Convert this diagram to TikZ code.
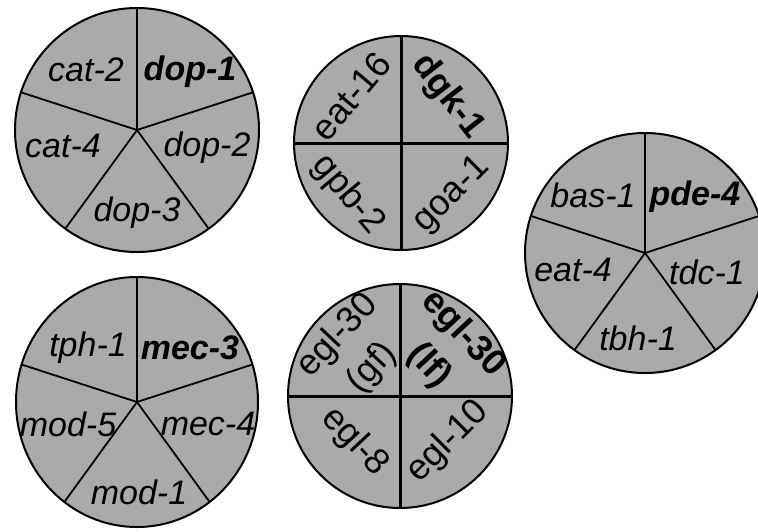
\documentclass[tikz,border=0pt]{standalone}
\usepackage{fontspec}
\setmainfont{Liberation Sans}
\usetikzlibrary{shapes.geometric}
\definecolor{piefill}{RGB}{170,170,170}
\tikzset{
  pie/.style={circle, draw=black, line width=2pt, fill=piefill, inner sep=0pt, outer sep=0pt},
  spoke/.style={line width=1.8pt},
  cross/.style={line width=3pt},
  lab/.style={font=\fontsize{34}{38}\selectfont\itshape, inner sep=0pt},
  blab/.style={font=\fontsize{34}{38}\selectfont\bfseries\itshape, inner sep=0pt},
  qlab/.style={font=\fontsize{36}{47}\selectfont, inner sep=0pt, align=center},
  bqlab/.style={font=\fontsize{36}{47}\selectfont\bfseries, inner sep=0pt, align=center},
}
\begin{document}
\begin{tikzpicture}[x=1pt, y=-1pt]
  \useasboundingbox (0,0) rectangle (758,531);
  \clip (0,0) rectangle (758,531);

  % dopamine group (five sectors)
  \node[pie, minimum size=244pt] (c1) at (137,130) {};
  \foreach \a in {90,18,-54,-126,162} \draw[spoke] (c1.center) -- (c1.\a);
  \node[lab]  (c1a) at (86,70)   {cat-2};
  \node[blab] (c1b) at (190,72)  {dop-1};
  \node[lab]  (c1c) at (63,146)  {cat-4};
  \node[lab]  (c1d) at (207,148) {dop-2};
  \node[lab]  (c1e) at (137,213) {dop-3};

  % G-protein / DAG group (quadrants)
  \node[pie, minimum size=214pt] (c2) at (401,143) {};
  \draw[cross] (c2.north) -- (c2.south);
  \draw[cross] (c2.west) -- (c2.east);
  \node[qlab,  rotate=50]  (c2a) at (351,96)  {eat-16};
  \node[bqlab, rotate=-52] (c2b) at (448,97)  {dgk-1};
  \node[qlab,  rotate=-50] (c2c) at (348,195) {gpb-2};
  \node[qlab,  rotate=45]  (c2d) at (452,195) {goa-1};

  % amine group (five sectors)
  \node[pie, minimum size=240pt] (c3) at (645,253) {};
  \foreach \a in {90,18,-54,-126,162} \draw[spoke] (c3.center) -- (c3.\a);
  \node[lab]  (c3a) at (593,195) {bas-1};
  \node[blab] (c3b) at (695,197) {pde-4};
  \node[lab]  (c3c) at (573,270) {eat-4};
  \node[lab]  (c3d) at (707,272) {tdc-1};
  \node[lab]  (c3e) at (638,338) {tbh-1};

  % serotonin / mechanosensory group (five sectors)
  \node[pie, ellipse, minimum width=242pt, minimum height=250pt] (c4) at (137,402) {};
  \foreach \a in {90,18,-54,-126,162} \draw[spoke] (c4.center) -- (c4.\a);
  \node[lab]  (c4a) at (88,348)  {tph-1};
  \node[blab] (c4b) at (190,348) {mec-3};
  \node[lab]  (c4c) at (68,424)  {mod-5};
  \node[lab]  (c4d) at (208,424) {mec-4};
  \node[lab]  (c4e) at (139,492) {mod-1};

  % Gq / Go group (quadrants)
  \node[pie, minimum size=224pt] (c5) at (400,396) {};
  \draw[cross] (c5.north) -- (c5.south);
  \draw[cross] (c5.west) -- (c5.east);
  \node[qlab,  rotate=47]  (c5a) at (355,352) {egl-30\\(gf)};
  \node[bqlab, rotate=-47] (c5b) at (446,350) {egl-30\\(lf)};
  \node[qlab,  rotate=-47] (c5c) at (355,442) {egl-8};
  \node[qlab,  rotate=45]  (c5d) at (448,442) {egl-10};
\end{tikzpicture}
\end{document}
